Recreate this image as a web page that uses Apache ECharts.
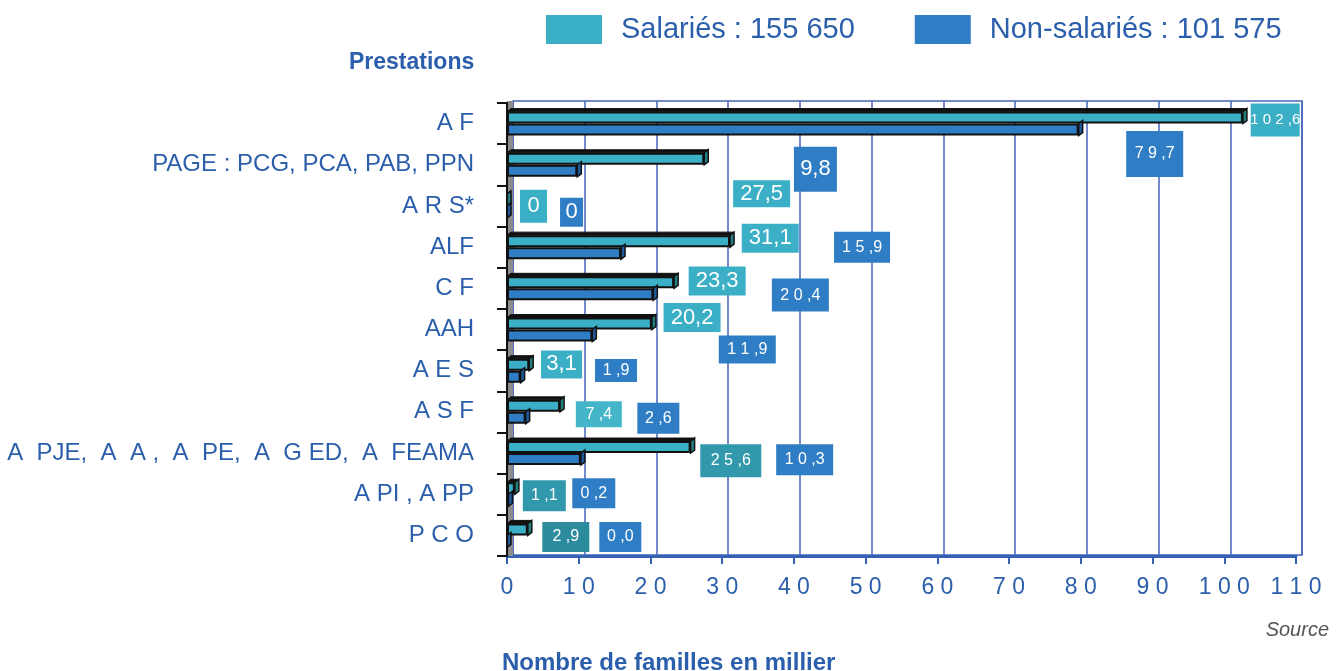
<!DOCTYPE html>
<html>
<head>
<meta charset="utf-8">
<script src="https://cdn.jsdelivr.net/npm/echarts@6/dist/echarts.min.js"></script>
<style>
  html, body { margin: 0; padding: 0; background: #fff; }
  #chart { width: 1336px; height: 671px; }
</style>
</head>
<body>
<div id="chart"></div>
<script>
// catégories, de haut en bas
const categories = ['A F', 'PAGE : PCG, PCA, PAB, PPN', 'A R S*', 'ALF', 'C F', 'AAH', 'A E S', 'A S F',
  'A  PJE,  A  A ,  A  PE,  A  G ED,  A  FEAMA', 'A PI , A PP', 'P C O']
const seriesNames = ['Salariés', 'Non-salariés']
const legendTotals = ['155 650', '101 575']
const salaries = [102.6, 27.5, 0, 31.1, 23.3, 20.2, 3.1, 7.4, 25.6, 1.1, 2.9]
const nonSalaries = [79.7, 9.8, 0, 15.9, 20.4, 11.9, 1.9, 2.6, 10.3, 0.2, 0.0]
const xTicks = { min: 0, max: 110, interval: 10 }

// placement des étiquettes (x en unités de l'axe, dy en px par rapport au centre de la catégorie)
const salLabelX = [107.1, 35.5, 3.7, 36.7, 29.3, 25.8, 7.6, 12.8, 31.2, 5.2, 8.2]
const salLabelDy = [-3.6, 29, 0.3, -9, -7.2, -12, -6.3, 2.4, 7.7, 1.4, 1.6]
const salLabelBox = [[49, 33], [57, 27], [27, 33], [57, 29], [57, 29], [57, 29], [41, 28], [46, 26], [61, 33], [43, 31], [47, 30]]
const salLabelKind = ['narrow', 'big', 'int', 'big', 'big', 'big', 'big', 'small', 'small', 'small', 'small']
const salLabelColor = ['#3aafc6', '#3aafc6', '#3aafc6', '#3aafc6', '#3aafc6', '#3aafc6', '#3aafc6', '#45b6ca', '#3298ac', '#3298ac', '#2c8c9e']

const nonLabelX = [90.3, 43.0, 9.0, 49.5, 40.9, 33.5, 15.2, 21.1, 41.5, 12.1, 15.8]
const nonLabelDy = [30.4, 4.6, 6.3, 0, 6.8, 20, -0.3, 6.4, 6.7, -1.1, 1.6]
const nonLabelBox = [[57, 46], [43, 45], [23, 29], [56, 31], [57, 33], [57, 28], [42, 23], [42, 31], [57, 31], [43, 30], [42, 30]]
const nonLabelKind = ['small', 'big', 'int', 'small', 'small', 'small', 'small', 'small', 'small', 'small', 'small']
const nonLabelColor = '#2f7ec5'

const textBlue = '#2b5fab'
const gridBlue = '#4565b8'
const colorSal = '#3aafc6'
const colorNon = '#2f7ec5'
const capSal = '#23807f'
const capNon = '#1f5a99'
const barW = 12
const labelFont = { big: 22, int: 22, small: 16, narrow: 15 }

function fmt(v, kind) {
    if (kind === 'int') return String(Math.round(v))
    let s = v.toFixed(1).replace('.', ',')
    if (kind === 'big') return s
    let [ent, dec] = s.split(',')
    return ent.split('').join(' ') + ' ,' + dec
}

function labelSeries(name, values, xs, dys, boxes, kinds, colors) {
    let data = []
    values.map((v, i) => {
        data.push({
            value: [xs[i], i],
            label: {
                show: true,
                position: 'inside',
                offset: [0, dys[i]],
                formatter: fmt(v, kinds[i]),
                width: boxes[i][0],
                height: boxes[i][1],
                lineHeight: boxes[i][1],
                align: 'center',
                verticalAlign: 'middle',
                backgroundColor: Array.isArray(colors) ? colors[i] : colors,
                color: '#fff',
                fontSize: labelFont[kinds[i]],
                fontFamily: 'Liberation Sans, Arial, sans-serif',
            },
        })
    })
    return {
        name: name,
        type: 'scatter',
        symbolSize: 1,
        itemStyle: { color: 'rgba(0,0,0,0)', opacity: 1 },
        z: 6,
        silent: true,
        data: data,
    }
}

// petit effet 3D en bout de barre (face droite + face supérieure)
function capSeries(name, values, upper, capColor) {
    return {
        name: name,
        type: 'custom',
        z: 4,
        silent: true,
        data: values.map((v, i) => [v, i]),
        renderItem: function (params, api) {
            let end = api.coord([api.value(0), api.value(1)])
            let start = api.coord([0, api.value(1)])
            let top = upper ? end[1] - barW : end[1]
            let bot = top + barW
            let dx = 4, dy = 3
            let children = [
                {
                    type: 'polygon',
                    shape: { points: [[end[0], top], [end[0] + dx, top - dy], [end[0] + dx, bot - dy], [end[0], bot]] },
                    style: { fill: capColor, stroke: '#111', lineWidth: 1.5 },
                },
            ]
            if (upper) {
                children.push({
                    type: 'polygon',
                    shape: { points: [[start[0], top], [start[0] + dx, top - dy], [end[0] + dx, top - dy], [end[0], top]] },
                    style: { fill: '#111', stroke: '#111', lineWidth: 1 },
                })
            }
            return { type: 'group', children: children }
        },
    }
}

let barStyle = {
    type: 'bar',
    barWidth: barW,
    barGap: '0%',
    z: 3,
    xAxisIndex: 0,
    yAxisIndex: 0,
}

let option = {
    animation: false,
    textStyle: { fontFamily: 'Liberation Sans, Arial, sans-serif' },
    title: [
        { text: 'Prestations', left: 344, top: 46, textStyle: { fontSize: 23, fontWeight: 'bold', color: textBlue } },
        { text: 'Nombre de familles en millier', left: 497, top: 646, textStyle: { fontSize: 24, fontWeight: 'bold', color: textBlue } },
        { text: 'Source', right: 2, top: 615, textStyle: { fontSize: 20, fontWeight: 'normal', fontStyle: 'italic', color: '#555' } },
    ],
    legend: {
        data: seriesNames,
        left: 546,
        top: 15,
        itemWidth: 56,
        itemHeight: 29,
        itemGap: 60,
        icon: 'rect',
        padding: 0,
        itemStyle: { borderWidth: 0 },
        formatter: (name) => name + ' : ' + legendTotals[seriesNames.indexOf(name)],
        textStyle: { fontSize: 29, color: textBlue, padding: [0, 0, 0, 14] },
    },
    grid: [
        // axes et barres
        { left: 507, top: 103, width: 789, height: 453 },
        // paroi du fond (quadrillage décalé)
        { left: 513, top: 101, width: 789, height: 454, show: true, borderColor: gridBlue, borderWidth: 1.5 },
    ],
    xAxis: [
        {
            type: 'value',
            gridIndex: 0,
            min: xTicks.min,
            max: xTicks.max,
            interval: xTicks.interval,
            axisLine: { show: true, lineStyle: { color: '#3561b5', width: 3 } },
            axisTick: { show: true, length: 8, lineStyle: { color: '#3561b5', width: 2 } },
            axisLabel: {
                fontSize: 23,
                color: textBlue,
                margin: 20,
                formatter: (v) => String(v).split('').join(' '),
            },
            splitLine: { show: false },
        },
        {
            type: 'value',
            gridIndex: 1,
            min: xTicks.min,
            max: xTicks.max,
            interval: xTicks.interval,
            axisLine: { show: false },
            axisTick: { show: false },
            axisLabel: { show: false },
            splitLine: { show: true, lineStyle: { color: gridBlue, width: 1.5 } },
        },
    ],
    yAxis: [
        {
            type: 'category',
            gridIndex: 0,
            data: categories,
            inverse: true,
            axisLine: { show: true, lineStyle: { color: '#111', width: 2 } },
            axisTick: { show: true, length: 10, lineStyle: { color: '#111', width: 2 } },
            axisLabel: { fontSize: 24, color: textBlue, margin: 33 },
            z: 5,
        },
        {
            type: 'category',
            gridIndex: 1,
            data: categories,
            inverse: true,
            show: false,
        },
    ],
    graphic: [
        {
            type: 'rect',
            z: 1,
            shape: { x: 507, y: 101, width: 6, height: 455 },
            style: { fill: '#8c8c8c' },
        },
    ],
    series: [
        Object.assign({}, barStyle, {
            name: seriesNames[0],
            data: salaries,
            itemStyle: { color: colorSal, borderColor: '#111', borderWidth: 2 },
        }),
        Object.assign({}, barStyle, {
            name: seriesNames[1],
            data: nonSalaries,
            itemStyle: { color: colorNon, borderColor: '#111', borderWidth: 2 },
        }),
        capSeries('cap-sal', salaries, true, capSal),
        capSeries('cap-non', nonSalaries, false, capNon),
        labelSeries('lbl-sal', salaries, salLabelX, salLabelDy, salLabelBox, salLabelKind, salLabelColor),
        labelSeries('lbl-non', nonSalaries, nonLabelX, nonLabelDy, nonLabelBox, nonLabelKind, nonLabelColor),
    ],
}

let myChart = echarts.init(document.getElementById('chart'))
myChart.setOption(option)
</script>
</body>
</html>
